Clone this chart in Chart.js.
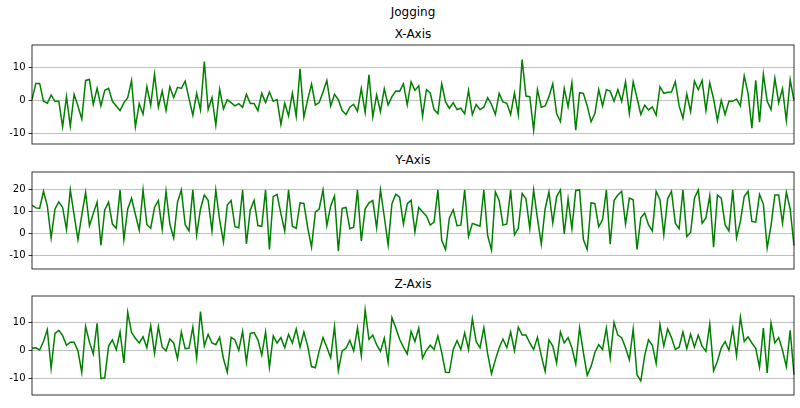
<!DOCTYPE html>
<html><head><meta charset="utf-8">
<script src="https://cdn.jsdelivr.net/npm/chart.js@4"></script>
<style>
html,body{margin:0;padding:0;background:#fff;width:800px;height:408px;overflow:hidden;font-family:"DejaVu Sans",sans-serif;}
.t{position:absolute;left:32px;width:762px;text-align:center;font-size:12px;line-height:14px;color:#000;}
.box{position:absolute;left:0;width:800px;}
</style></head><body>
<div class="t" style="top:5px">Jogging</div>
<div class="t" style="top:27px">X-Axis</div>
<div class="t" style="top:153px">Y-Axis</div>
<div class="t" style="top:277px">Z-Axis</div>
<div class="box" id="b0"><canvas id="c0"></canvas></div>
<div class="box" id="b1"><canvas id="c1"></canvas></div>
<div class="box" id="b2"><canvas id="c2"></canvas></div>
<script>
const titles = ["X-Axis", "Y-Axis", "Z-Axis"];
const xVals = [
 0.2, 5.1, 5.1, -0.3, -0.9, 1.6, -0.3, -0.3, -8.0, 1.1,
 -7.8, 1.8, -1.7, -5.7, 6.0, 6.3, -1.2, 3.6, -1.7, 3.0,
 3.6, -0.3, -1.7, -3.1, -0.7, 0.8, 6.0, -8.0, -1.0, -4.2,
 4.1, -1.5, 7.9, -2.1, 2.8, -3.1, 4.1, 0.8, 3.9, 3.6,
 5.8, 0.5, -4.5, 2.1, -2.9, 11.7, -2.8, 0.8, -7.5, 3.3,
 -2.6, 0.2, -0.7, -1.7, -1.0, -2.1, 1.8, -1.0, -1.0, -3.1,
 2.1, -0.7, 2.5, -0.3, 0.2, -7.3, -0.9, -4.7, 2.2, -4.8,
 9.5, -5.1, 0.2, 4.9, -1.4, -0.7, 2.5, 6.0, -1.7, 1.8,
 0.2, -3.1, -4.3, -2.1, -1.2, -3.3, 3.6, -3.7, 7.7, -5.0,
 1.6, -3.4, 3.5, -1.4, 1.1, 2.8, 2.7, 5.0, -1.4, 5.6,
 3.0, 4.4, -4.8, 3.2, 2.2, -2.8, -4.0, 5.0, -0.5, -2.4,
 -0.7, -2.8, -2.4, -4.1, 3.0, -4.3, -1.3, -2.8, -2.1, 0.8,
 -1.2, -4.3, 2.1, -0.5, -0.9, -4.3, 2.2, -4.3, 12.3, 1.3,
 1.1, -9.0, 3.2, -2.1, -1.7, 1.1, 5.0, -4.0, -6.4, 3.6,
 -2.0, 5.3, -9.0, 2.3, 2.1, -1.7, -6.5, -4.0, 3.2, -1.7,
 3.2, 2.8, -0.3, 3.2, -0.3, 5.6, -4.0, 5.6, 0.7, -4.3,
 -1.5, -2.9, -2.0, -4.5, 4.1, 2.1, 2.4, 2.5, 5.6, -1.7,
 -5.4, 1.9, -3.4, 5.8, 3.2, 6.0, -3.1, 5.3, 0.4, -6.1,
 0.0, -4.3, -0.3, -0.3, 0.4, -1.7, 7.4, 2.1, -8.4, 6.0,
 -6.6, 7.9, -0.3, -2.8, 6.7, -0.7, 3.5, -6.1, 6.2, -0.1
];
const yVals = [
 12.7, 11.5, 11.3, 19.0, 12.4, -2.1, 11.0, 14.2, 11.7, 1.8,
 19.6, 8.2, -2.8, 8.2, 18.5, 3.5, 8.9, 14.1, -5.4, 10.6,
 14.1, 4.2, 2.3, 19.6, -2.8, 11.0, 15.9, 8.5, 1.5, 19.6,
 3.9, 2.3, 11.7, 14.8, 1.8, 19.0, 4.2, -2.1, 14.1, 19.6,
 3.9, 1.1, 19.6, -0.7, 11.0, 17.3, 14.9, 1.1, 19.6, 6.1,
 -3.9, 12.8, 14.8, 3.0, 2.5, 19.6, -4.8, 10.6, 14.9, 3.5,
 3.2, 19.6, -7.3, 16.6, 17.6, 8.9, 1.1, 19.6, 3.2, 2.3,
 13.8, 13.5, 2.5, -6.2, 9.6, 11.0, 19.6, 3.5, 12.4, 16.9,
 -8.0, 11.3, 11.7, 2.1, 2.8, 19.6, -3.4, 11.0, 13.8, 14.8,
 2.5, 19.6, 7.5, -5.2, 13.4, 17.7, 16.3, 4.2, 13.4, 14.9,
 0.7, 11.7, 9.6, 7.9, 3.7, 5.1, 19.6, -3.1, -7.3, 7.0,
 10.7, 3.5, 3.7, 19.6, -1.4, 4.5, 3.9, 3.2, 19.6, -1.0,
 -7.6, 18.7, 14.8, 3.7, 4.2, 19.6, -0.7, 2.3, 18.0, 15.6,
 2.1, 19.6, 6.8, -4.9, 11.0, 18.7, 4.6, 16.6, 19.6, -0.3,
 15.6, 2.1, 19.4, 19.6, -2.8, -7.3, 13.8, 13.4, 3.0, 6.1,
 19.6, -4.9, 14.8, 17.3, 19.0, 4.2, 15.9, 15.2, -7.3, 7.0,
 9.2, 3.9, 1.1, 19.0, 15.2, -0.6, 15.6, 19.0, 4.6, 2.1,
 19.6, -1.4, 0.4, 15.9, 19.6, 4.6, 7.0, 17.0, -6.3, 17.3,
 15.9, 3.9, 1.1, 19.6, -2.0, 5.4, 16.6, 19.0, 5.4, 5.1,
 17.6, 13.1, -6.6, 3.5, 17.3, 17.3, 4.6, 18.5, 11.0, -5.6
];
const zVals = [
 0.7, 0.9, 0.1, 3.1, 7.3, -6.4, 6.0, 7.1, 5.2, 1.8,
 2.9, 2.9, -0.2, -7.9, 8.5, 2.9, -1.3, 9.6, -10.1, -9.8,
 1.5, 3.7, 0.2, 6.5, -4.5, 13.5, 6.3, 4.3, 2.6, 4.8,
 0.9, 8.8, -1.1, 8.4, 1.1, -0.2, 4.0, 2.6, -3.0, 6.5,
 0.6, 0.7, 8.2, -2.7, 13.8, 1.5, 5.7, 2.6, 2.0, 4.6,
 -3.0, -7.8, 4.6, 3.7, 0.0, 6.7, -4.2, 6.0, 6.3, 3.7,
 -1.7, 6.5, -6.1, 5.1, 2.6, 4.5, 0.9, 5.6, 2.6, 7.6,
 1.1, 6.5, 1.5, -5.8, -6.2, -0.2, 4.5, 1.1, -2.7, 8.5,
 -7.2, -0.2, 0.7, 3.5, -0.2, 7.9, -1.9, 14.4, 3.9, 5.4,
 2.0, -0.4, 4.3, -4.2, 11.6, 8.0, 3.9, 1.1, -1.3, 6.7,
 3.1, 7.9, -2.8, 0.0, 1.8, 0.3, 5.1, -0.8, -7.8, -7.9,
 0.3, 3.4, 0.3, 6.2, 0.3, 11.2, 3.1, 0.9, 8.0, -1.3,
 -8.3, -3.4, 0.9, 4.0, 0.9, 6.5, -0.2, 8.2, 5.4, 5.4,
 2.6, 0.3, 4.6, -1.9, -7.5, 3.7, 1.5, -4.5, 6.5, 2.6,
 4.5, 0.9, -4.9, 8.0, -0.8, -8.9, -5.8, -0.8, 2.0, 0.3,
 7.9, -2.7, 9.9, 5.4, 4.5, 0.9, -3.4, 7.6, -8.7, -10.9,
 -1.9, 3.7, 1.8, -4.7, 9.1, 1.5, 7.6, 4.5, 0.3, 1.1,
 6.5, 0.6, 5.7, 1.2, 5.4, 1.5, -0.4, 9.3, -7.3, -3.9,
 0.9, 3.1, 0.0, 7.9, -1.9, 11.8, 3.1, 4.8, 2.6, 0.7,
 -6.1, 7.9, -8.1, 9.7, 2.6, 4.5, 0.0, -5.8, 7.1, -8.7
];
const xTicks = [-10, 0, 10];
const yTicks = [-10, 0, 10, 20];
const zTicks = [-10, 0, 10];
const xLimits = [-13.2, 16.7];
const yLimits = [-16.1, 27.7];
const zLimits = [-15.9, 19.3];

const sampleIndex = xVals.map((_, i) => i);

const framePlugin = {
  id: 'frame',
  afterDraw(c) {
    const a = c.chartArea, ctx = c.ctx;
    ctx.save();
    ctx.strokeStyle = '#000';
    ctx.lineWidth = 0.8;
    ctx.strokeRect(a.left, a.top, a.right - a.left, a.bottom - a.top);
    ctx.restore();
  }
};

const PAD = 6;
function makeChart(n, values, limits, ticks, plotTop, plotBottom) {
  const box = document.getElementById('b' + n);
  box.style.top = (plotTop - PAD) + 'px';
  box.style.height = (plotBottom - plotTop + 2 * PAD) + 'px';
  new Chart(document.getElementById('c' + n), {
    type: 'line',
    data: {
      labels: sampleIndex,
      datasets: [{
        label: titles[n],
        data: values,
        borderColor: '#008000',
        borderWidth: 1.5,
        pointRadius: 0,
        tension: 0,
        fill: false
      }]
    },
    options: {
      responsive: true,
      maintainAspectRatio: false,
      animation: false,
      events: [],
      layout: { padding: { top: PAD, bottom: PAD, left: 0, right: 6 } },
      plugins: { legend: { display: false }, tooltip: { enabled: false } },
      scales: {
        x: { display: false, offset: false },
        y: {
          min: limits[0], max: limits[1],
          afterFit(s) { s.width = 32; },
          afterBuildTicks(s) { s.ticks = ticks.map(v => ({ value: v })); },
          grid: { color: '#b0b0b0', lineWidth: 0.8, tickColor: '#000', tickLength: 3.5, drawTicks: true },
          border: { display: false },
          ticks: { color: '#000', font: { family: 'DejaVu Sans', size: 10 }, padding: 3 }
        }
      }
    },
    plugins: [framePlugin]
  });
}

makeChart(0, xVals, xLimits, xTicks, 42, 147);
makeChart(1, yVals, yLimits, yTicks, 169, 272);
makeChart(2, zVals, zLimits, zTicks, 293, 398);
</script>
</body></html>
